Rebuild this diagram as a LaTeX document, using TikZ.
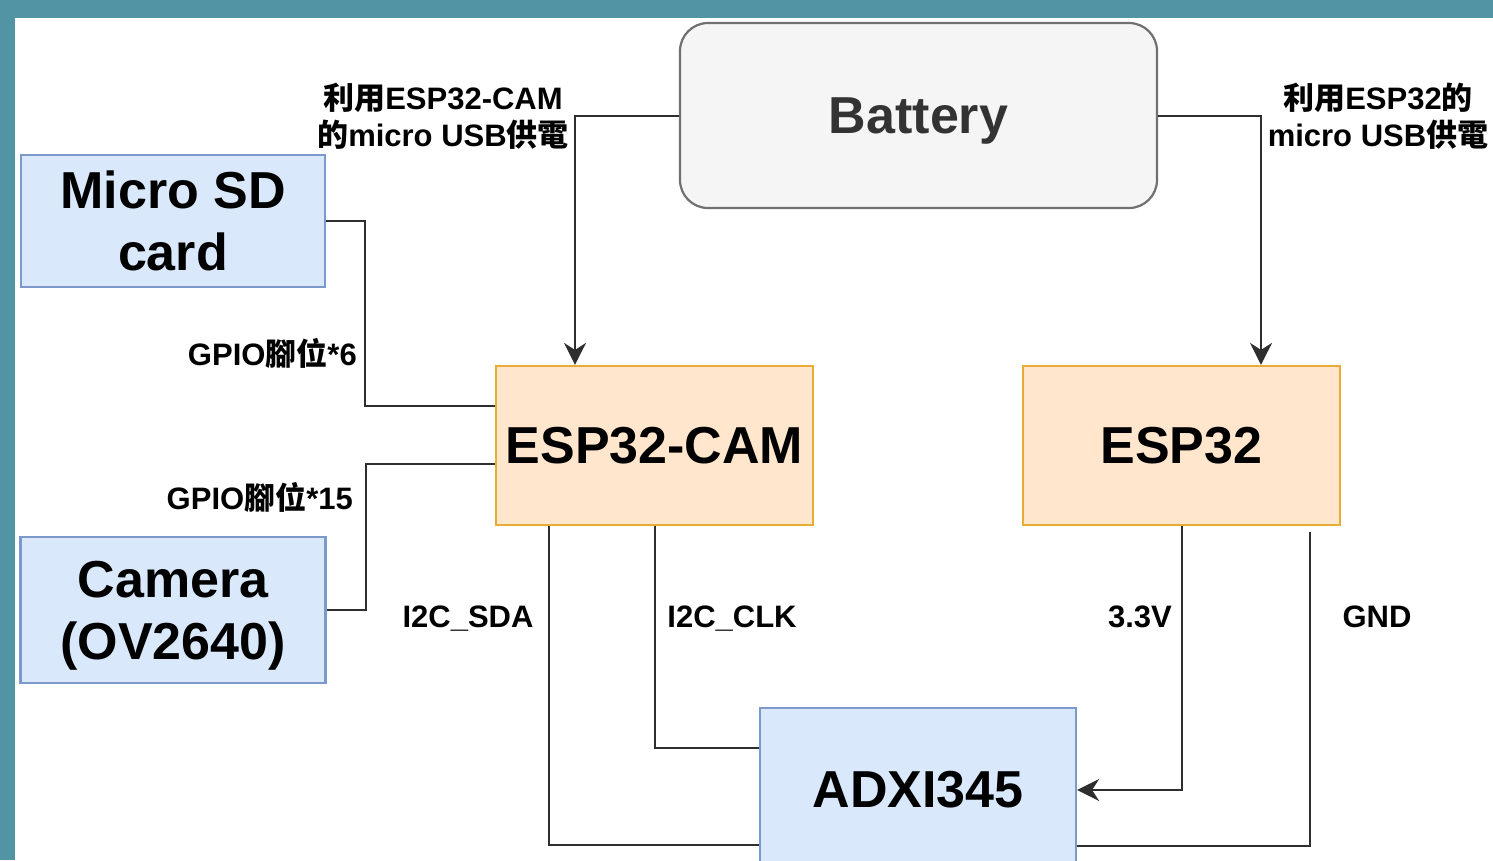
\documentclass[tikz,border=0pt]{standalone}
\usepackage{fontspec}
\setmainfont{Liberation Sans}
\newfontfamily\cjk{Noto Sans CJK TC}
\usetikzlibrary{arrows.meta}
\definecolor{teal0}{RGB}{82,148,164}
\definecolor{bluefill}{HTML}{DAE8FC}
\definecolor{bluedraw}{HTML}{7B9ACB}
\definecolor{orfill}{HTML}{FFE6CC}
\definecolor{ordraw}{HTML}{E8AC34}
\definecolor{grfill}{HTML}{F5F5F5}
\definecolor{grdraw}{HTML}{707070}
\definecolor{grtext}{HTML}{333333}
\definecolor{wirec}{HTML}{2E2E2E}
\newcommand{\zh}[1]{{\cjk #1}}
\tikzset{
 base/.style={draw, line width=2.2pt, inner sep=0pt, align=center, font=\bfseries\fontsize{52}{62}\selectfont},
 bluebox/.style={base, fill=bluefill, draw=bluedraw},
 orangebox/.style={base, fill=orfill, draw=ordraw},
 graybox/.style={base, fill=grfill, draw=grdraw, rounded corners=28pt, text=grtext},
 lab/.style={font=\bfseries\fontsize{31}{37}\selectfont, align=center, inner sep=0pt},
 wire/.style={draw=wirec, line width=2pt},
 arr/.style={wire, -{Stealth[length=22pt,width=22pt,inset=7pt]}},
}
\begin{document}
\begin{tikzpicture}[x=1pt,y=-1pt]
\useasboundingbox (0,0) rectangle (1493,860);
\clip (0,0) rectangle (1493,860);
\fill[white] (0,0) rectangle (1493,860);
\fill[teal0] (0,0) rectangle (1493,18);
\fill[teal0] (0,0) rectangle (15,860);

\node[graybox, text depth=0pt, minimum width=477, minimum height=185] (bat) at (918.5,115.5) {Battery};
\node[bluebox, minimum width=304, minimum height=132] (sd) at (173,221) {Micro SD\\card};
\node[bluebox, text depth=0pt, minimum width=305, minimum height=146] (camera) at (173,610) {Camera\\(OV2640)};
\node[orangebox, minimum width=317, minimum height=159] (cam) at (654.5,445.5) {ESP32-CAM};
\node[orangebox, minimum width=317, minimum height=159] (esp) at (1181.5,445.5) {ESP32};
\node[bluebox, minimum width=316, minimum height=164] (adx) at (918,790) {ADXI345};
\coordinate (gnd) at (1310,532);

\draw[arr] (bat.west) -| ([xshift=-79.5pt]cam.north);
\draw[arr] (bat.east) -| ([xshift=79.5pt]esp.north);
\draw[wire] (sd.east) -- ++(39,0) |- ([yshift=39.5pt]cam.west);
\draw[wire] (camera.east) -- ++(39,0) |- ([yshift=-18.5pt]cam.west);
\draw[wire] ([xshift=-105.5pt]cam.south) |- ([yshift=-55pt]adx.west);
\draw[wire] (cam.south) |- ([yshift=42pt]adx.west);
\draw[arr] (esp.south) |- (adx.east);
\draw[wire] (gnd) |- ([yshift=-56pt]adx.east);

\node[lab] (l1) at (443,116) {\zh{利用}ESP32-CAM\\\zh{的}micro USB\zh{供電}};
\node[lab] (l2) at (1378,116) {\zh{利用}ESP32\zh{的}\\micro USB\zh{供電}};
\node[lab, anchor=east] (l3) at (357,353) {GPIO\zh{腳位}*6};
\node[lab, anchor=east] (l4) at (353,497) {GPIO\zh{腳位}*15};
\node[lab, anchor=base] (l5) at (468,627) {I2C\_SDA};
\node[lab, anchor=base] (l6) at (732,627) {I2C\_CLK};
\node[lab, anchor=base] (l7) at (1140,627) {3.3V};
\node[lab, anchor=base] (l8) at (1377,627) {GND};
\end{tikzpicture}
\end{document}
